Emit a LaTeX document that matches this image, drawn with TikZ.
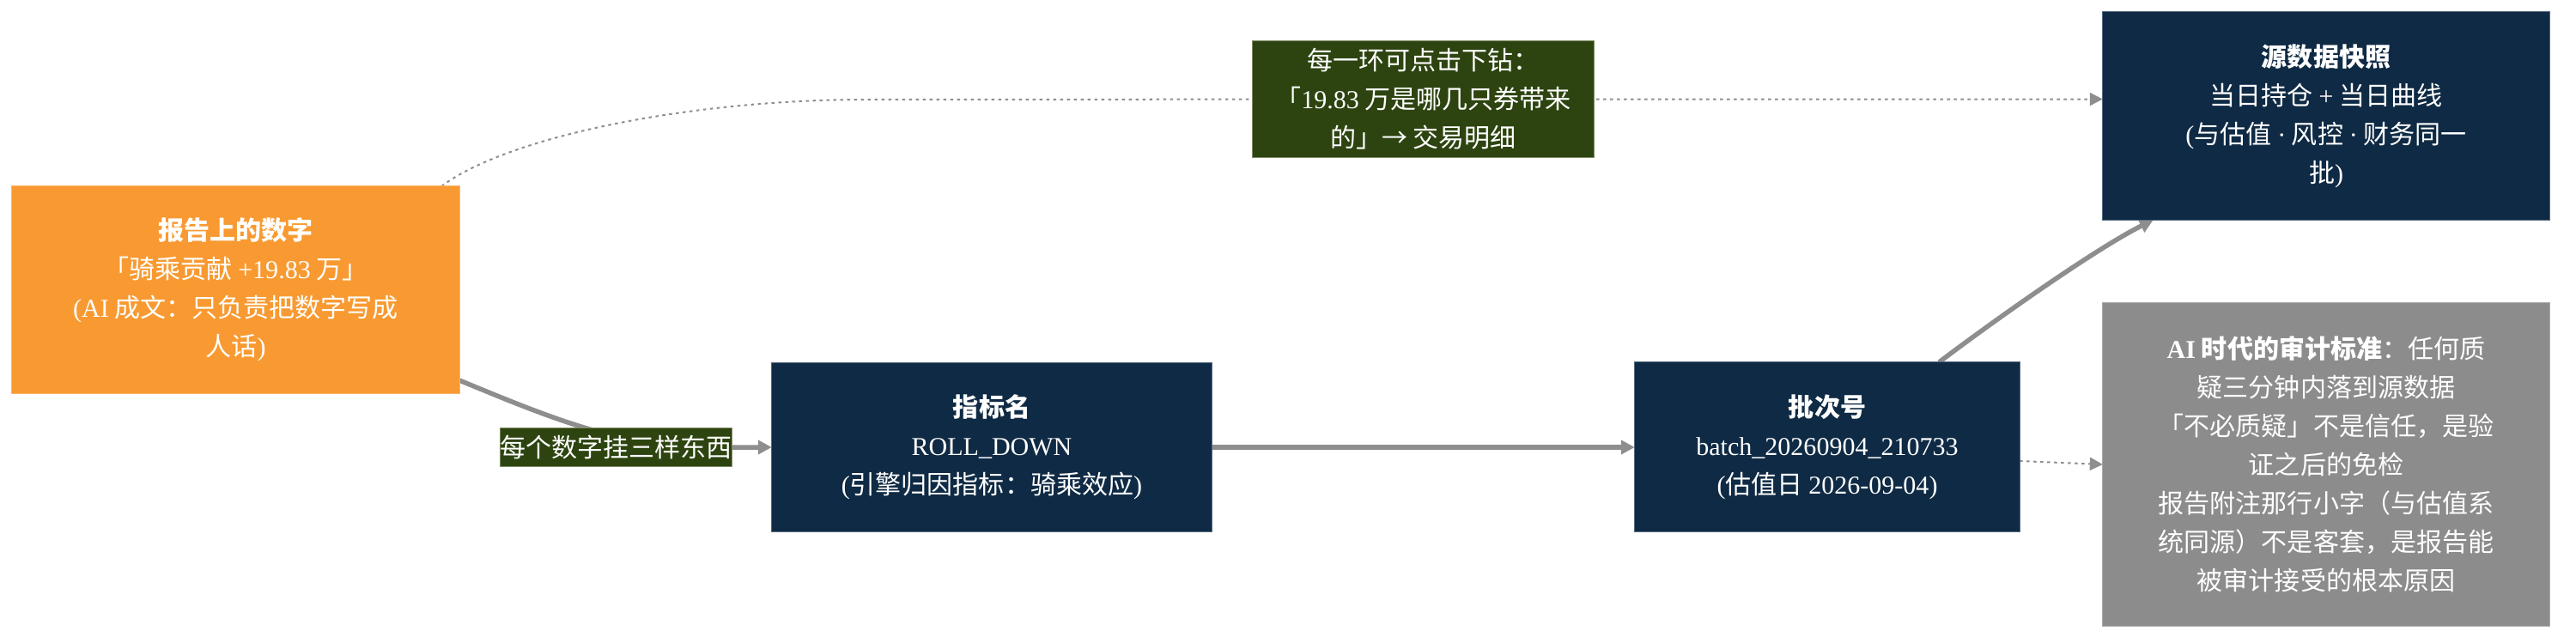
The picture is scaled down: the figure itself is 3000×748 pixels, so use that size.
\documentclass[tikz,border=0pt]{standalone}
\usepackage{fontspec}
\setmainfont{Noto Sans CJK SC}
\newfontfamily\latf{Liberation Serif}
\newcommand\lat[1]{{\latf #1}}
\usetikzlibrary{arrows.meta,calc}
\definecolor{orangeC}{HTML}{F89A31}
\definecolor{orangeB}{HTML}{FBB56C}
\definecolor{navyC}{HTML}{0F2A44}
\definecolor{navyB}{HTML}{566A7E}
\definecolor{greenC}{HTML}{2D4410}
\definecolor{greenB}{HTML}{7F8C66}
\definecolor{grayC}{HTML}{8C8C8C}
\definecolor{grayB}{HTML}{ABABAB}
\definecolor{lineC}{HTML}{8E8E8E}
\pgfdeclarelayer{bg}
\pgfsetlayers{bg,main}
\begin{document}
\begin{tikzpicture}[x=0.01cm,y=-0.01cm,
  box/.style={rectangle, inner sep=0pt, outer sep=0pt, align=center, text=white,
    font={\fontsize{8.54pt}{12.8pt}\selectfont}, line width=0.01cm},
  navybox/.style={box, fill=navyC, draw=navyB},
  orangebox/.style={box, fill=orangeC, draw=orangeB},
  graybox/.style={box, fill=grayC, draw=grayB},
  labelbox/.style={box, fill=greenC, draw=greenB},
  thk/.style={draw=lineC, line width=0.055cm, -{Triangle[length=0.16cm,width=0.16cm]}},
  dotl/.style={draw=lineC, line width=0.02cm, dash pattern=on 0.035cm off 0.045cm,
    -{Triangle[length=0.15cm,width=0.15cm]}},
]
\useasboundingbox (0,0) rectangle (3000,748);

\node[orangebox, minimum width=5.21cm, minimum height=2.41cm] (orange) at (274.5,337.5)
  {{\bfseries 报告上的数字}\\「骑乘贡献 \lat{+19.83} 万」\\\lat{(AI} 成文：只负责把数字写成\\人话\lat{)}};

\node[navybox, minimum width=5.12cm, minimum height=1.96cm] (zhibiao) at (1155,521)
  {{\bfseries 指标名}\\\lat{ROLL\_DOWN}\\\lat{(}引擎归因指标：骑乘效应\lat{)}};

\node[navybox, minimum width=4.48cm, minimum height=1.97cm] (batch) at (2128,520.5)
  {{\bfseries 批次号}\\\lat{batch\_20260904\_210733}\\\lat{(}估值日 \lat{2026-09-04)}};

\node[navybox, minimum width=5.20cm, minimum height=2.42cm] (snap) at (2709,135)
  {{\bfseries 源数据快照}\\当日持仓 \lat{+} 当日曲线\\\lat{(}与估值 \lat{·} 风控 \lat{·} 财务同一\\批\lat{)}};

\node[graybox, minimum width=5.20cm, minimum height=3.76cm] (gray) at (2709,541)
  {{\bfseries\lat{AI} 时代的审计标准}：任何质\\疑三分钟内落到源数据\\「不必质疑」不是信任，是验\\证之后的免检\\报告附注那行小字（与估值系\\统同源）不是客套，是报告能\\被审计接受的根本原因};

\node[labelbox, minimum width=3.97cm, minimum height=1.35cm] (toplab) at (1657.5,115.5)
  {每一环可点击下钻：\\「\lat{19.83} 万是哪几只券带来\\的」→ 交易明细};

\node[labelbox, minimum width=2.69cm, minimum height=0.44cm] (botlab) at (717.5,521)
  {每个数字挂三样东西};

\begin{pgfonlayer}{bg}
  \draw[dotl] ($(orange.north east)+(-21,0)$) .. controls (590,160) and (800,116) .. (1010,116)
    -- (toplab.center) -- (snap.west |- toplab.center);
  \draw[thk] ($(orange.south east)+(0,-15)$) .. controls (630,482) and (720,521) .. (820,521)
    -- (zhibiao.west);
  \draw[thk] (zhibiao.east) -- (batch.west |- zhibiao.east);
  \draw[thk] ($(batch.north east)+(-94,0)$) .. controls (2320,375) and (2440,290) ..
    ($(snap.south west)+(59,0)$);
  \draw[dotl] ($(batch.east)+(0,16.5)$) -- (gray.west);
\end{pgfonlayer}
\end{tikzpicture}
\end{document}
